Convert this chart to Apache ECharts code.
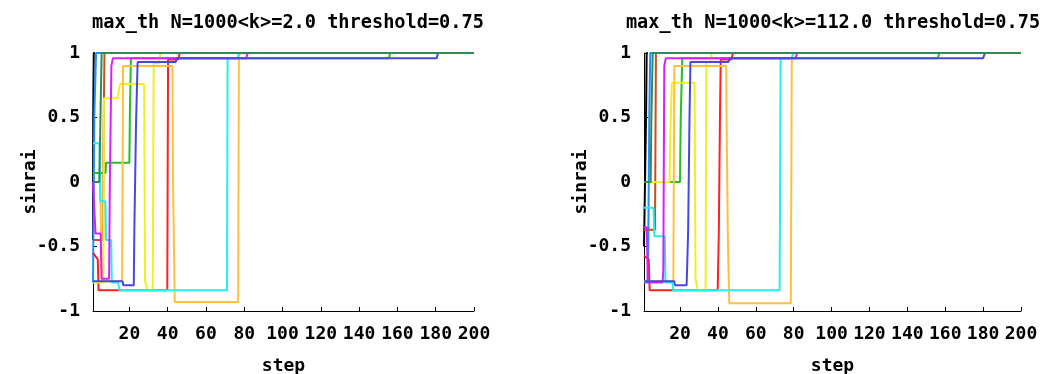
<!DOCTYPE html>
<html><head><meta charset="utf-8">
<script src="https://cdn.jsdelivr.net/npm/echarts@6/dist/echarts.min.js"></script>
<style>html,body{margin:0;padding:0;background:#fff}#c{width:1048px;height:374px}</style>
</head><body><div id="c"></div>
<script>
// ---- data (step, sinrai) ----
const titles = ['max_th N=1000<k>=2.0 threshold=0.75', 'max_th N=1000<k>=112.0 threshold=0.75'];
const xTicks = [20, 40, 60, 80, 100, 120, 140, 160, 180, 200];
const seriesNames = ['black','dodger','brown','lime','red','yellow','orange','cyan','magenta','blue','seagreen'];

const L_black = [[1,-0.45],[1.1,0.52],[1.4,1.0],[2,1.0]];
const L_dodger = [[1,-0.78],[1.7,0.52],[2.6,1.0],[6,1.0]];
const L_brown = [[1,-0.45],[6.3,-0.45],[6.5,0.34],[7,1.0],[8,1.0]];
const L_lime = [[1,0.07],[7.5,0.07],[7.8,0.15],[20,0.15],[20.3,0.56],[20.8,0.96],[155.5,0.96],[156.3,1.0],[200,1.0]];
const L_red = [[1,-0.55],[3.5,-0.6],[3.9,-0.84],[39.8,-0.84],[40.2,0.95],[45.5,0.95],[46.3,1.0],[48,1.0]];
const L_yellow = [[1,-0.78],[6.4,-0.78],[6.7,0.65],[14,0.65],[14.5,0.71],[15.1,0.76],[27.7,0.76],[28.2,-0.77],[29.6,-0.84],[32.2,-0.84],[32.7,0.92],[35.5,0.92],[36.2,1.0],[38,1.0]];
const L_orange = [[1,0.0],[4.8,0.0],[5.2,-0.4],[5.6,-0.77],[16.2,-0.77],[16.7,0.9],[42.5,0.9],[42.8,0.0],[43.7,-0.93],[76.8,-0.93],[77.2,0.98],[78,1.0],[80,1.0]];
const L_cyan = [[1,0.3],[4.4,0.3],[4.8,-0.15],[7.5,-0.15],[7.8,-0.45],[10.5,-0.45],[10.8,-0.78],[14,-0.78],[15,-0.84],[71,-0.84],[71.3,0.96],[76.5,0.96],[77.2,1.0],[79,1.0]];
const L_magenta = [[1,0.0],[2,0.0],[2.3,-0.4],[5,-0.4],[5.5,-0.75],[9.4,-0.75],[9.8,0.0],[10.6,0.9],[11.4,0.96],[81,0.96],[81.8,1.0],[84,1.0]];
const L_blue = [[1,-0.77],[16.5,-0.77],[16.8,-0.8],[22.3,-0.8],[22.6,-0.37],[23.5,0.47],[24.3,0.93],[44.2,0.93],[44.7,0.96],[180.5,0.96],[181.2,1.0],[183,1.0]];
const L_seagreen = [[1,0.0],[4.3,0.0],[4.9,0.51],[5.5,1.0],[200,1.0]];

const R_black = [[1,-0.5],[1.8,-0.5],[2.1,0.52],[2.4,1.0],[3,1.0]];
const R_dodger = [[1,-0.78],[3.0,-0.78],[3.3,-0.4],[3.8,0.52],[4.3,1.0],[6,1.0]];
const R_brown = [[1,-0.37],[6.8,-0.37],[7.3,1.0],[8,1.0]];
const R_lime = [[1,0.0],[20,0.0],[20.4,0.5],[21.2,0.96],[156,0.96],[157,1.0],[200,1.0]];
const R_red = [[1,-0.57],[3.5,-0.6],[4,-0.84],[39.9,-0.84],[40.5,-0.38],[41.1,0.5],[41.5,0.95],[47,0.95],[48,1.0],[50,1.0]];
const R_yellow = [[1,0.0],[14.5,0.0],[14.9,0.38],[15.7,0.77],[27.7,0.77],[28.2,-0.75],[29.5,-0.84],[33.5,-0.84],[33.9,0.93],[36,0.93],[36.6,1.0],[38,1.0]];
const R_orange = [[1,-0.77],[16.5,-0.77],[17,0.9],[44.4,0.9],[44.6,0.46],[45.3,-0.46],[46,-0.94],[78.5,-0.94],[79,0.97],[80,1.0],[82,1.0]];
const R_cyan = [[1,-0.2],[6,-0.2],[6.5,-0.42],[12,-0.42],[12.3,-0.78],[16,-0.78],[16.4,-0.84],[72.6,-0.84],[73.1,0.96],[79,0.96],[80,1.0],[82,1.0]];
const R_magenta = [[1,-0.35],[2.5,-0.35],[3,-0.78],[10.8,-0.78],[11.2,-0.68],[11.7,0.9],[12.5,0.96],[81,0.96],[81.8,1.0],[84,1.0]];
const R_blue = [[1,-0.77],[17,-0.77],[17.3,-0.8],[23.5,-0.8],[24.3,-0.38],[25,0.48],[25.5,0.93],[45.5,0.93],[46.5,0.96],[180,0.96],[181,1.0],[183,1.0]];
const R_seagreen = [[1,0.0],[4.5,0.0],[4.9,0.5],[5.6,1.0],[200,1.0]];

// ---- styling ----
const colors = {black:'#000000', dodger:'#1e90ff', brown:'#c8501e', lime:'#22c022', red:'#ff2020',
  yellow:'#f0f020', orange:'#ffc040', cyan:'#20f0f0', magenta:'#d820ff', blue:'#4848e0', seagreen:'#2e8b57'};
const leftData = {black:L_black,dodger:L_dodger,brown:L_brown,lime:L_lime,red:L_red,yellow:L_yellow,orange:L_orange,cyan:L_cyan,magenta:L_magenta,blue:L_blue,seagreen:L_seagreen};
const rightData = {black:R_black,dodger:R_dodger,brown:R_brown,lime:R_lime,red:R_red,yellow:R_yellow,orange:R_orange,cyan:R_cyan,magenta:R_magenta,blue:R_blue,seagreen:R_seagreen};

const FONT = '"DejaVu Sans Mono", monospace';
const txt = {fontFamily: FONT, fontWeight: 'bold', fontSize: 18, color: '#000'};

const grids = [
  {left: 93, top: 53, width: 381, height: 258, outerBoundsMode: 'none', containLabel: false},
  {left: 644, top: 53, width: 377, height: 258, outerBoundsMode: 'none', containLabel: false}
];

function xAxis(i){
  return {gridIndex:i, type:'value', min:1, max:200, name:'step', nameLocation:'middle', nameGap:46, nameMoveOverlap:false,
    nameTextStyle: txt,
    axisLine:{show:true, onZero:false, lineStyle:{color:'#000', width:1}},
    axisTick:{show:true, inside:true, length:4, customValues: xTicks, lineStyle:{color:'#000'}},
    axisLabel:{show:true, customValues: xTicks, margin:14, ...txt},
    splitLine:{show:false}};
}
function yAxis(i){
  return {gridIndex:i, type:'value', min:-1, max:1, interval:0.5, name:'sinrai', nameLocation:'middle', nameGap:54, nameRotate:90, nameMoveOverlap:false,
    nameTextStyle: txt,
    axisLine:{show:true, onZero:false, lineStyle:{color:'#000', width:1}},
    axisTick:{show:true, inside:true, length:4, lineStyle:{color:'#000'}},
    axisLabel:{show:true, margin:13, ...txt},
    splitLine:{show:false}};
}

const series = [];
[leftData, rightData].forEach((d, gi) => {
  seriesNames.forEach(n => {
    series.push({type:'line', xAxisIndex:gi, yAxisIndex:gi, data:d[n], showSymbol:false, symbol:'none',
      lineStyle:{color:colors[n], width:2}, itemStyle:{color:colors[n]}, clip:true, silent:true});
  });
});

const chart = echarts.init(document.getElementById('c'), null, {renderer:'canvas'});
chart.setOption({
  animation:false,
  backgroundColor:'#fff',
  title: [
    {text: titles[0], left: 283, top: 9, textAlign:'center', textStyle: {...txt, fontSize: 18.6}},
    {text: titles[1], left: 828, top: 9, textAlign:'center', textStyle: {...txt, fontSize: 18.6}}
  ],
  grid: grids,
  xAxis: [xAxis(0), xAxis(1)],
  yAxis: [yAxis(0), yAxis(1)],
  series: series
});
</script></body></html>
